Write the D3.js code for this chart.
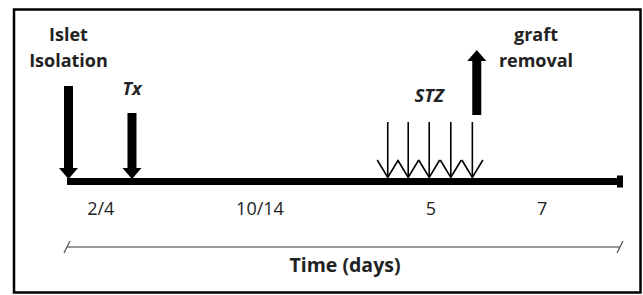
<!DOCTYPE html>
<html>
<head>
<meta charset="utf-8">
<script src="https://cdn.jsdelivr.net/npm/d3@7"></script>
<style>
  html, body { margin: 0; padding: 0; background: #fff; }
  svg { display: block; font-family: "Open Sans", Lato, sans-serif; }
</style>
</head>
<body>
<div id="chart"></div>
<script>
// Données : positions schématiques sur la ligne du temps (0 = isolement, 100 = fin)
const startPos = 0
const endPos = 100
const txPos = 11.75
const stzPos = [58.0, 61.7, 65.5, 69.4, 73.3]
const removalPos = 74.1

// Durées des périodes (texte sous la ligne)
const periodLabels = ['2/4', '10/14', '5', '7']
const periodPos = [6.1, 34.9, 65.8, 85.9]

// Étiquettes des évènements
const isletLabel = ['Islet', 'Isolation']
const txLabel = 'Tx'
const stzLabel = 'STZ'
const removalLabel = ['graft', 'removal']
const axisTitle = 'Time (days)'

const width = 643,
    height = 295

const svg = d3.select('#chart')
    .append('svg')
    .attr('width', width)
    .attr('height', height)

// Cadre
svg.append('rect')
    .attr('x', 14)
    .attr('y', 9.5)
    .attr('width', 626.5)
    .attr('height', 283)
    .attr('fill', 'none')
    .attr('stroke', '#000')
    .attr('stroke-width', 2.5)

// Échelle horizontale
const x = d3.scaleLinear()
    .domain([startPos, endPos])
    .range([67, 620])

const lineY = 181.5
const line = d3.line()

// Ligne du temps principale
svg.append('line')
    .attr('x1', x(startPos))
    .attr('x2', x(endPos))
    .attr('y1', lineY)
    .attr('y2', lineY)
    .attr('stroke', '#000')
    .attr('stroke-width', 7)

// Embout carré à droite
svg.append('rect')
    .attr('x', x(endPos) - 3)
    .attr('y', lineY - 6)
    .attr('width', 6)
    .attr('height', 12)
    .attr('fill', '#000')

// Grosse flèche (vers le bas si dir = 1, vers le haut si dir = -1)
const bigArrow = (cx, yTail, yTip, dir) => {
    const shaftW = 4.5, headW = 9.5, headL = 11
    const yBase = yTip - dir * headL
    return line([
        [cx - shaftW, yTail], [cx + shaftW, yTail],
        [cx + shaftW, yBase], [cx + headW, yBase],
        [cx, yTip],
        [cx - headW, yBase], [cx - shaftW, yBase]
    ]) + 'Z'
}

svg.append('path')
    .attr('d', bigArrow(x(startPos) + 1.5, 86, 179, 1))
    .attr('fill', '#000')

svg.append('path')
    .attr('d', bigArrow(x(txPos), 113, 179, 1))
    .attr('fill', '#000')

svg.append('path')
    .attr('d', bigArrow(x(removalPos), 115, 50, -1))
    .attr('fill', '#000')

// Flèches fines STZ
const stz = svg.append('g')
    .attr('stroke', '#000')
    .attr('stroke-width', 1.6)
    .attr('fill', 'none')

stz.selectAll('line')
    .data(stzPos)
    .join('line')
    .attr('x1', d => x(d))
    .attr('x2', d => x(d))
    .attr('y1', 122)
    .attr('y2', 177)

stz.selectAll('path')
    .data(stzPos)
    .join('path')
    .attr('d', d => line([[x(d) - 10.5, 160], [x(d), 177.5], [x(d) + 10.5, 160]]))
    .attr('stroke-linejoin', 'miter')

// Textes
const bold = (txt, cx, y, size, italic) => svg.append('text')
    .attr('x', cx)
    .attr('y', y)
    .attr('text-anchor', 'middle')
    .attr('font-weight', 'bold')
    .attr('font-style', italic ? 'italic' : 'normal')
    .attr('font-size', size)
    .attr('fill', '#222')
    .text(txt)

bold(isletLabel[0], x(startPos) + 1.5, 41, 18)
bold(isletLabel[1], x(startPos) + 1.5, 67, 18)
bold(txLabel, x(txPos), 95, 18, true)
bold(stzLabel, x(stzPos[2]), 102, 18.5, true)
bold(removalLabel[0], 536, 41, 18)
bold(removalLabel[1], 536, 67, 18)

// Durées
svg.selectAll('.period')
    .data(periodLabels)
    .join('text')
    .attr('class', 'period')
    .attr('x', (d, i) => x(periodPos[i]))
    .attr('y', 215)
    .attr('text-anchor', 'middle')
    .attr('font-size', 18)
    .attr('fill', '#222')
    .text(d => d)

// Ligne d'échelle du temps avec traits obliques
const axisY = 247
svg.append('line')
    .attr('x1', x(startPos))
    .attr('x2', x(endPos))
    .attr('y1', axisY)
    .attr('y2', axisY)
    .attr('stroke', '#777')
    .attr('stroke-width', 1.3)

svg.selectAll('.slash')
    .data([startPos, endPos])
    .join('line')
    .attr('class', 'slash')
    .attr('x1', d => x(d) - 3)
    .attr('x2', d => x(d) + 3)
    .attr('y1', axisY + 6)
    .attr('y2', axisY - 6)
    .attr('stroke', '#555')
    .attr('stroke-width', 1.3)

bold(axisTitle, 345, 272, 19.5)
</script>
</body>
</html>
